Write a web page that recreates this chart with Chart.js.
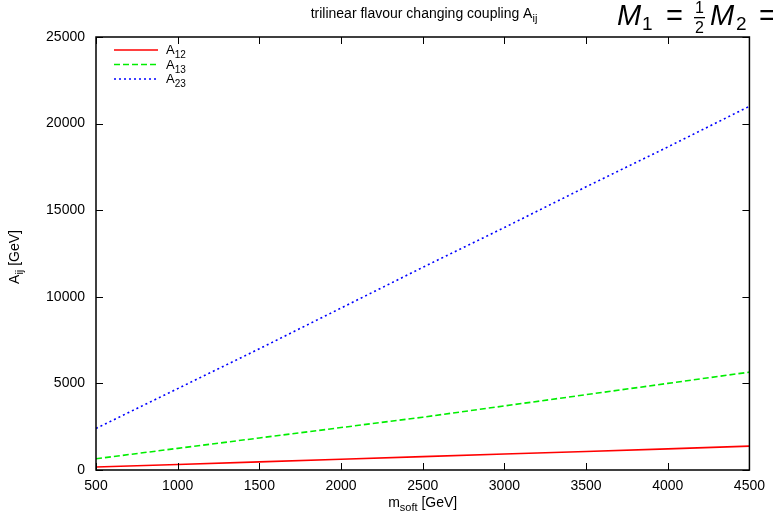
<!DOCTYPE html>
<html>
<head>
<meta charset="utf-8">
<script src="https://cdn.jsdelivr.net/npm/chart.js@4"></script>
<style>
  html, body { margin: 0; padding: 0; background: #fff; }
  #wrap { width: 773px; height: 517px; position: relative; }
</style>
</head>
<body>
<div id="wrap"><canvas id="grafica"></canvas></div>
<script>
// =========================
// DATOS
// =========================
const mSoft = [500, 1000, 1500, 2000, 2500, 3000, 3500, 4000, 4500];
const a12 = [170, 320, 470, 620, 770, 920, 1070, 1220, 1380];
const a13 = [650, 1250, 1850, 2450, 3050, 3700, 4350, 5000, 5650];
const a23 = [2400, 4700, 7000, 9350, 11700, 14000, 16350, 18650, 21000];

const xTicks = [500, 1000, 1500, 2000, 2500, 3000, 3500, 4000, 4500];
const yTicks = [0, 5000, 10000, 15000, 20000, 25000];

const FONT = "'Liberation Sans', Arial, Helvetica, sans-serif";

const series = [
  { name: "A", sub: "12", data: a12, color: "#ff0000", dash: [] },
  { name: "A", sub: "13", data: a13, color: "#00ee00", dash: [6, 3] },
  { name: "A", sub: "23", data: a23, color: "#0000ff", dash: [2, 3] }
];

// texto con subíndice (y sufijo opcional), alineado a la izquierda o al centro
function textSub(ctx, x, y, main, sub, size, center, suffix) {
  const subSize = Math.round(size * 0.75);
  ctx.font = size + "px " + FONT;
  const w1 = ctx.measureText(main).width;
  const w3 = suffix ? ctx.measureText(suffix).width : 0;
  ctx.font = subSize + "px " + FONT;
  const w2 = ctx.measureText(sub).width;
  const x0 = center ? x - (w1 + w2 + w3) / 2 : x;
  ctx.textAlign = "left";
  ctx.textBaseline = "alphabetic";
  ctx.font = size + "px " + FONT;
  ctx.fillText(main, x0, y);
  if (suffix) ctx.fillText(suffix, x0 + w1 + w2, y);
  ctx.font = subSize + "px " + FONT;
  ctx.fillText(sub, x0 + w1, y + size * 0.32);
}

// marco, ticks hacia dentro, títulos y leyenda
const decoracion = {
  id: "decoracion",
  afterDraw(chart) {
    const ctx = chart.ctx;
    const { left, right, top, bottom } = chart.chartArea;
    const sx = chart.scales.x;
    const sy = chart.scales.y;
    ctx.save();
    ctx.strokeStyle = "#000";
    ctx.lineWidth = 1.5;
    ctx.setLineDash([]);
    ctx.strokeRect(left, top, right - left, bottom - top);

    ctx.lineWidth = 1;
    const tl = 7;
    ctx.beginPath();
    xTicks.forEach((v) => {
      const px = Math.round(sx.getPixelForValue(v)) + 0.5;
      ctx.moveTo(px, bottom); ctx.lineTo(px, bottom - tl);
      ctx.moveTo(px, top); ctx.lineTo(px, top + tl);
    });
    yTicks.forEach((v) => {
      const py = Math.round(sy.getPixelForValue(v)) + 0.5;
      ctx.moveTo(left, py); ctx.lineTo(left + tl, py);
      ctx.moveTo(right, py); ctx.lineTo(right - tl, py);
    });
    ctx.stroke();

    ctx.fillStyle = "#000";
    // título
    textSub(ctx, 424, 18, "trilinear flavour changing coupling A", "ij", 14, true);

    // fórmula grande cortada a la derecha
    ctx.textAlign = "left";
    ctx.textBaseline = "alphabetic";
    const base = 25;
    ctx.font = "italic 29px " + FONT;
    ctx.fillText("M", 617, base);
    ctx.font = "19px " + FONT;
    ctx.fillText("1", 642, base + 5);
    ctx.font = "29px " + FONT;
    ctx.fillText("=", 666, base);
    ctx.font = "16px " + FONT;
    ctx.fillText("1", 695, base - 12);
    ctx.fillText("2", 695, base + 8);
    ctx.fillRect(694, base - 8, 11, 1.3);
    ctx.font = "italic 29px " + FONT;
    ctx.fillText("M", 710, base);
    ctx.font = "19px " + FONT;
    ctx.fillText("2", 736, base + 5);
    ctx.font = "29px " + FONT;
    ctx.fillText("=", 759, base);

    // eje x
    textSub(ctx, (left + right) / 2, 507, "m", "soft", 14, true, " [GeV]");
    // eje y (rotado)
    ctx.save();
    ctx.translate(19, 257);
    ctx.rotate(-Math.PI / 2);
    textSub(ctx, 0, 0, "A", "ij", 14, true, " [GeV]");
    ctx.restore();

    // leyenda
    series.forEach((s, i) => {
      const y = 50 + i * 14.5;
      ctx.strokeStyle = s.color;
      ctx.lineWidth = 1.5;
      ctx.setLineDash(s.dash);
      ctx.beginPath();
      ctx.moveTo(114, y);
      ctx.lineTo(158, y);
      ctx.stroke();
      ctx.setLineDash([]);
      ctx.fillStyle = "#000";
      textSub(ctx, 166, y + 4, s.name, s.sub, 13, false);
    });
    ctx.restore();
  }
};

const ctx = document.getElementById("grafica").getContext("2d");

new Chart(ctx, {
  type: "line",
  data: {
    datasets: series.map((s) => ({
      label: s.name + s.sub,
      data: mSoft.map((m, i) => ({ x: m, y: s.data[i] })),
      borderColor: s.color,
      borderWidth: 1.6,
      borderDash: s.dash,
      pointRadius: 0,
      tension: 0,
      fill: false
    }))
  },
  options: {
    responsive: true,
    maintainAspectRatio: false,
    animation: false,
    layout: { padding: { top: 37, right: 21, left: 0, bottom: 0 } },
    plugins: { legend: { display: false }, tooltip: { enabled: false } },
    scales: {
      x: {
        type: "linear",
        min: 500,
        max: 4500,
        afterBuildTicks: (s) => { s.ticks = xTicks.map((v) => ({ value: v })); },
        afterFit: (s) => { s.height = 47; },
        grid: { display: false, drawTicks: false },
        border: { display: false },
        ticks: { color: "#000", font: { family: FONT, size: 14 }, padding: 8, maxRotation: 0, callback: (v) => String(v) }
      },
      y: {
        type: "linear",
        min: 0,
        max: 25000,
        afterBuildTicks: (s) => { s.ticks = yTicks.map((v) => ({ value: v })); },
        afterFit: (s) => { s.width = 96; },
        grid: { display: false, drawTicks: false },
        border: { display: false },
        ticks: { color: "#000", font: { family: FONT, size: 14 }, padding: 11, callback: (v) => String(v) }
      }
    }
  },
  plugins: [decoracion]
});
</script>
</body>
</html>
